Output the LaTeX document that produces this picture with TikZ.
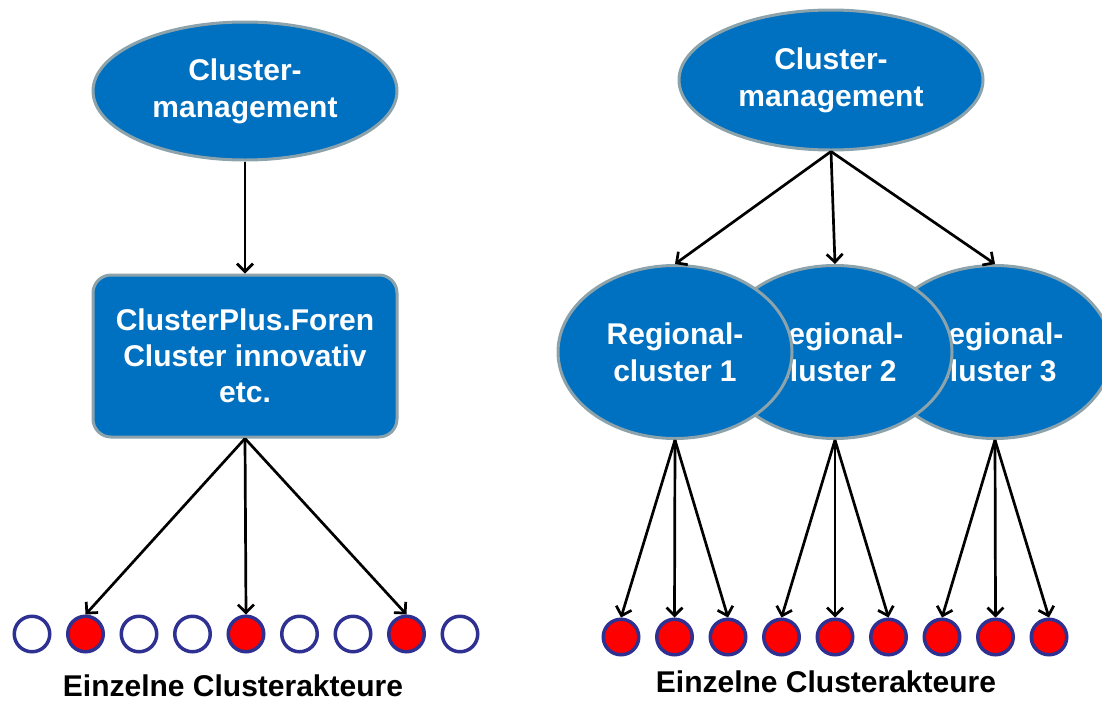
\documentclass[tikz,border=0pt]{standalone}
\usepackage{fontspec}
\setmainfont{Liberation Sans}
\usetikzlibrary{shapes.geometric,arrows.meta}
\definecolor{boxblue}{HTML}{0070C0}
\definecolor{boxedge}{HTML}{8DA3AC}
\definecolor{ringblue}{HTML}{2E3192}
\begin{document}
\begin{tikzpicture}[x=1pt,y=-1pt,
  bigfont/.style={font=\fontsize{30pt}{37pt}\selectfont\bfseries},
  blob/.style={ellipse, fill=boxblue, draw=boxedge, line width=3pt, inner sep=0pt,
    text=white, bigfont, align=center},
  panel/.style={rectangle, rounded corners=18pt, fill=boxblue, draw=boxedge, line width=3pt,
    inner sep=0pt, text=white, font=\fontsize{30pt}{36pt}\selectfont\bfseries, align=center,
    minimum width=304pt, minimum height=162pt},
  actor/.style={circle, draw=ringblue, line width=3.5pt, minimum size=35.5pt, inner sep=0pt},
  conn/.style={line width=2.7pt, -{Straight Barb[length=8pt,width=16pt]}},
  caption/.style={font=\fontsize{30pt}{36pt}\selectfont\bfseries, text=black, inner sep=0pt}
]
\useasboundingbox (0,0) rectangle (1102,702);

% ---------- left side ----------
\node[blob, minimum width=304pt, minimum height=138pt] (lcm) at (245,91) {Cluster-\\management};
\node[panel] (lbox) at (245,356) {ClusterPlus.Foren\\Cluster innovativ\\etc.};
\draw[conn] (lcm.south) -- (lbox.north);

\foreach \i/\f in {1/white,2/red,3/white,4/white,5/red,6/white,7/white,8/red,9/white}{
  \node[actor, fill=\f] (L\i) at ({32+53.5*(\i-1)},634) {};
}
\draw[conn] (lbox.south) -- (L2.north);
\draw[conn] (lbox.south) -- (L5.north);
\draw[conn] (lbox.south) -- (L8.north);
\node[caption] (lcap) at (233,686) {Einzelne Clusterakteure};

% ---------- right side ----------
\node[blob, minimum width=304pt, minimum height=140pt] (rcm) at (831,80) {Cluster-\\management};
\node[blob, minimum width=234pt, minimum height=173pt] (rg3) at (995,352) {Regional-\\cluster 3};
\node[blob, minimum width=234pt, minimum height=173pt] (rg2) at (835,352) {Regional-\\cluster 2};
\node[blob, minimum width=234pt, minimum height=173pt] (rg1) at (675,352) {Regional-\\cluster 1};
\draw[conn] (rcm.south) -- (rg1.north);
\draw[conn] (rcm.south) -- (rg2.north);
\draw[conn] (rcm.south) -- (rg3.north);

\foreach \i in {1,...,9}{
  \node[actor, fill=red] (R\i) at ({621+53.5*(\i-1)},637) {};
}
\draw[conn] (rg1.south) -- (R1.north);
\draw[conn] (rg1.south) -- (R2.north);
\draw[conn] (rg1.south) -- (R3.north);
\draw[conn] (rg2.south) -- (R4.north);
\draw[conn] (rg2.south) -- (R5.north);
\draw[conn] (rg2.south) -- (R6.north);
\draw[conn] (rg3.south) -- (R7.north);
\draw[conn] (rg3.south) -- (R8.north);
\draw[conn] (rg3.south) -- (R9.north);
\node[caption] (rcap) at (826,682) {Einzelne Clusterakteure};
\end{tikzpicture}
\end{document}
